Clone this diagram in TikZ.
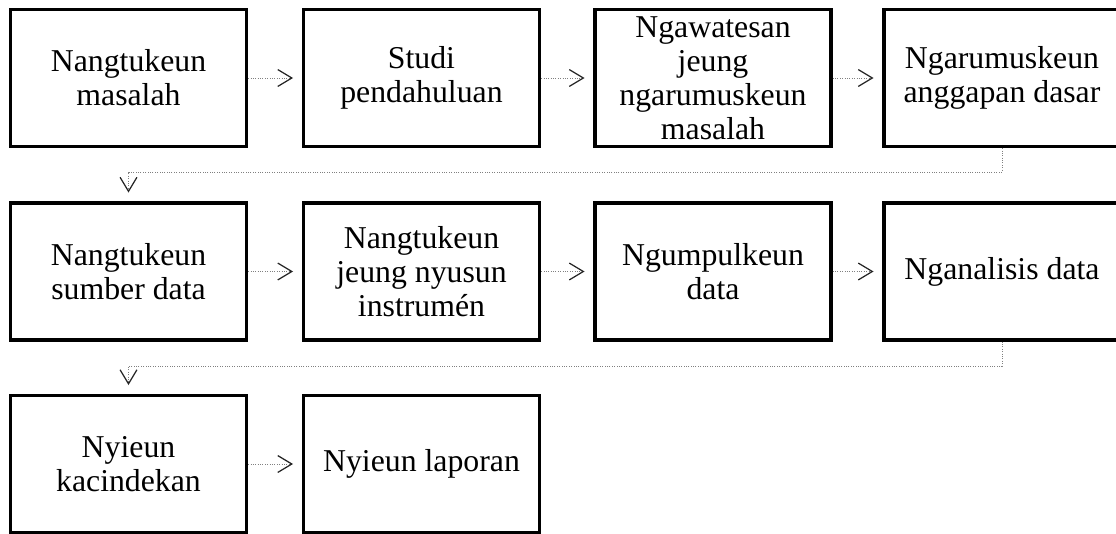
\documentclass[tikz,border=0pt]{standalone}
\usepackage{fontspec}
\setmainfont{Liberation Serif}
\usetikzlibrary{arrows.meta}
\tikzset{
  stepbox/.style={draw, line width=2.3pt, minimum width=5.9cm, minimum height=3.425cm,
    inner sep=0pt, align=center, font=\fontsize{22.6}{24.2}\selectfont},
  flow/.style={densely dotted, gray, line width=0.7pt, shorten >=0.22cm,
    -{Straight Barb[length=10pt,width=12pt,line width=0.9pt,black!85]}}
}
\begin{document}
\begin{tikzpicture}[x=0.025cm, y=-0.025cm]
                \useasboundingbox (0,0) rectangle (1116,533);
                % first row
                \node[stepbox] (r1c1) at (128.5,78) {Nangtukeun\\masalah};
                \node[stepbox] (r1c2) at (421.5,78) {Studi\\pendahuluan};
                \node[stepbox] (r1c3) at (713,78) {Ngawatesan\\jeung\\ngarumuskeun\\masalah};
                \node[stepbox] (r1c4) at (1002,78) {Ngarumuskeun\\anggapan dasar};
                \draw[flow] (r1c1.east) -- (r1c2.west);
                \draw[flow] (r1c2.east) -- (r1c3.west);
                \draw[flow] (r1c3.east) -- (r1c4.west);
                % second row
                \node[stepbox] (r2c1) at (128.5,271.5) {Nangtukeun\\sumber data};
                \node[stepbox] (r2c2) at (421.5,271.5) {Nangtukeun\\jeung nyusun\\instrumén};
                \node[stepbox] (r2c3) at (713,271.5) {Ngumpulkeun\\data};
                \node[stepbox] (r2c4) at (1002,271.5) {Nganalisis data};
                \draw[flow] (r2c1.east) -- (r2c2.west);
                \draw[flow] (r2c2.east) -- (r2c3.west);
                \draw[flow] (r2c3.east) -- (r2c4.west);
                \coordinate (bend1) at (128.5,172);
                \draw[flow] (r1c4.south) |- (bend1) -- (r2c1.north);
                % third row
                \node[stepbox] (r3c1) at (128.5,464) {Nyieun\\kacindekan};
                \node[stepbox] (r3c2) at (421.5,464) {Nyieun laporan};
                \draw[flow] (r3c1.east) -- (r3c2.west);
                \coordinate (bend2) at (128.5,366);
                \draw[flow] (r2c4.south) |- (bend2) -- (r3c1.north);
\end{tikzpicture}
\end{document}
